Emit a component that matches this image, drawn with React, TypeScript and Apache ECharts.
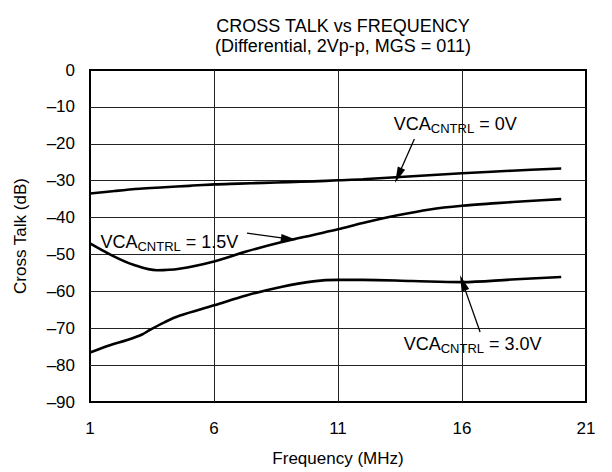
import React, { useEffect, useRef } from "react";
import * as echarts from "echarts";

// ---- Data ----
const freq0V = [1, 2, 3, 4, 5, 6, 7, 8, 9, 10, 11, 12, 14, 16, 18, 20];
const talk0V = [-33.5, -32.8, -32.2, -31.8, -31.4, -31.0, -30.8, -30.6, -30.4, -30.2, -29.9, -29.6, -28.8, -28.0, -27.3, -26.7];

const freq15V = [1, 1.9, 2.75, 3.7, 4.6, 6, 7.3, 8.7, 10, 11, 12, 13.4, 14.7, 16, 17.4, 18.7, 20];
const talk15V = [-47, -50.3, -52.8, -54.3, -53.9, -51.9, -49.2, -46.7, -44.7, -43.2, -41.5, -39.4, -37.8, -36.8, -36.1, -35.5, -35.0];

const freq30V = [1, 1.8, 2.5, 3.1, 3.4, 4, 4.6, 6, 7.3, 8.7, 10, 11, 12, 14, 16, 18, 20];
const talk30V = [-76.6, -74.6, -73.2, -71.7, -70.5, -68.4, -66.6, -63.8, -61.1, -58.8, -57.3, -56.9, -56.9, -57.2, -57.5, -56.8, -56.1];

const xTicks = [1, 6, 11, 16, 21];

const titleLines = ["CROSS TALK vs FREQUENCY", "(Differential, 2Vp-p, MGS = 011)"];
const xName = "Frequency (MHz)";
const yName = "Cross Talk (dB)";

// annotation labels: [text suffix, label anchor (left-middle), arrow start, arrow tip]
const labelSuffix = [" = 0V", " = 1.5V", " = 3.0V"];
const labelAnchor: number[][] = [[13.23, -14.7], [1.4, -46.6], [13.63, -74.4]];
const arrowFrom: number[][] = [[14.08, -18.7], [7.33, -44.2], [16.73, -71.0]];
const arrowTo: number[][] = [[13.43, -28.6], [9.02, -45.8], [16.03, -57.7]];

const FONT = '"Liberation Sans", Arial, Helvetica, sans-serif';

const zip = (xs: number[], ys: number[]) => xs.map((x, i) => [x, ys[i]]);

export default function App() {
  const ref = useRef<HTMLDivElement>(null);

  useEffect(() => {
    document.body.style.margin = "0";
    if (!ref.current) return;
    const chart = echarts.init(ref.current, undefined, { renderer: "svg" });

    const curves = [zip(freq0V, talk0V), zip(freq15V, talk15V), zip(freq30V, talk30V)];

    const series = curves.map((data, i) => ({
      type: "line",
      data,
      smooth: 0.35,
      showSymbol: false,
      symbol: "none",
      silent: true,
      lineStyle: { color: "#000", width: 2.6 },
      z: 3,
      markLine: {
        silent: true,
        animation: false,
        symbol: ["none", "none"],
        label: { show: false },
        lineStyle: { color: "#000", width: 1.3, type: "solid" },
        data: [
          [
            { coord: arrowFrom[i], symbol: "none" },
            {
              coord: arrowTo[i],
              symbol: "path://M5,0 L10,30 L0,30 Z",
              symbolSize: [8, 16],
            },
          ],
        ],
      },
      markPoint: {
        silent: true,
        animation: false,
        symbol: "circle",
        symbolSize: 1,
        itemStyle: { color: "rgba(0,0,0,0)" },
        data: [
          {
            coord: labelAnchor[i],
            label: {
              show: true,
              position: "right",
              distance: 0,
              formatter: "{m|VCA}{s|CNTRL}{m|" + labelSuffix[i] + "}",
              rich: {
                m: { fontSize: 18, lineHeight: 22, color: "#000", fontFamily: FONT },
                s: { fontSize: 13, lineHeight: 10, verticalAlign: "bottom", color: "#000", fontFamily: FONT },
              },
            },
          },
        ],
      },
    }));

    const minus = (v: number) => (v < 0 ? "\u2013" + Math.abs(v) : String(v));

    chart.setOption({
      animation: false,
      backgroundColor: "#fff",
      textStyle: { fontFamily: FONT },
      title: {
        text: titleLines.join("\n"),
        left: 338,
        top: 11,
        textAlign: "center",
        textStyle: {
          fontSize: 18,
          fontWeight: "normal",
          color: "#000",
          lineHeight: 20,
          fontFamily: FONT,
        },
      },
      grid: {
        left: 90,
        right: 26,
        top: 70,
        bottom: 67,
        show: true,
        borderColor: "#000",
        borderWidth: 2,
        backgroundColor: "transparent",
        containLabel: false,
      },
      xAxis: {
        type: "value",
        min: 1,
        max: 21,
        interval: 5,
        name: xName,
        nameLocation: "middle",
        nameGap: 48,
        nameTextStyle: { fontSize: 17, color: "#000", fontFamily: FONT },
        axisLine: { show: false },
        axisTick: { show: false, customValues: xTicks },
        axisLabel: {
          fontSize: 17,
          color: "#000",
          margin: 18,
          fontFamily: FONT,
          customValues: xTicks,
        },
        splitLine: {
          show: true,
          showMinLine: false,
          showMaxLine: false,
          lineStyle: { color: "#222", width: 1 },
        },
      },
      yAxis: {
        type: "value",
        min: -90,
        max: 0,
        interval: 10,
        name: yName,
        nameLocation: "middle",
        nameGap: 61,
        nameTextStyle: { fontSize: 17, color: "#000", fontFamily: FONT },
        axisLine: { show: false },
        axisTick: { show: false },
        axisLabel: {
          fontSize: 17,
          color: "#000",
          margin: 15,
          fontFamily: FONT,
          formatter: minus,
        },
        splitLine: {
          show: true,
          showMinLine: false,
          showMaxLine: false,
          lineStyle: { color: "#222", width: 1 },
        },
      },
      series,
    });

    return () => chart.dispose();
  }, []);

  return <div ref={ref} style={{ width: 612, height: 472 }} />;
}
